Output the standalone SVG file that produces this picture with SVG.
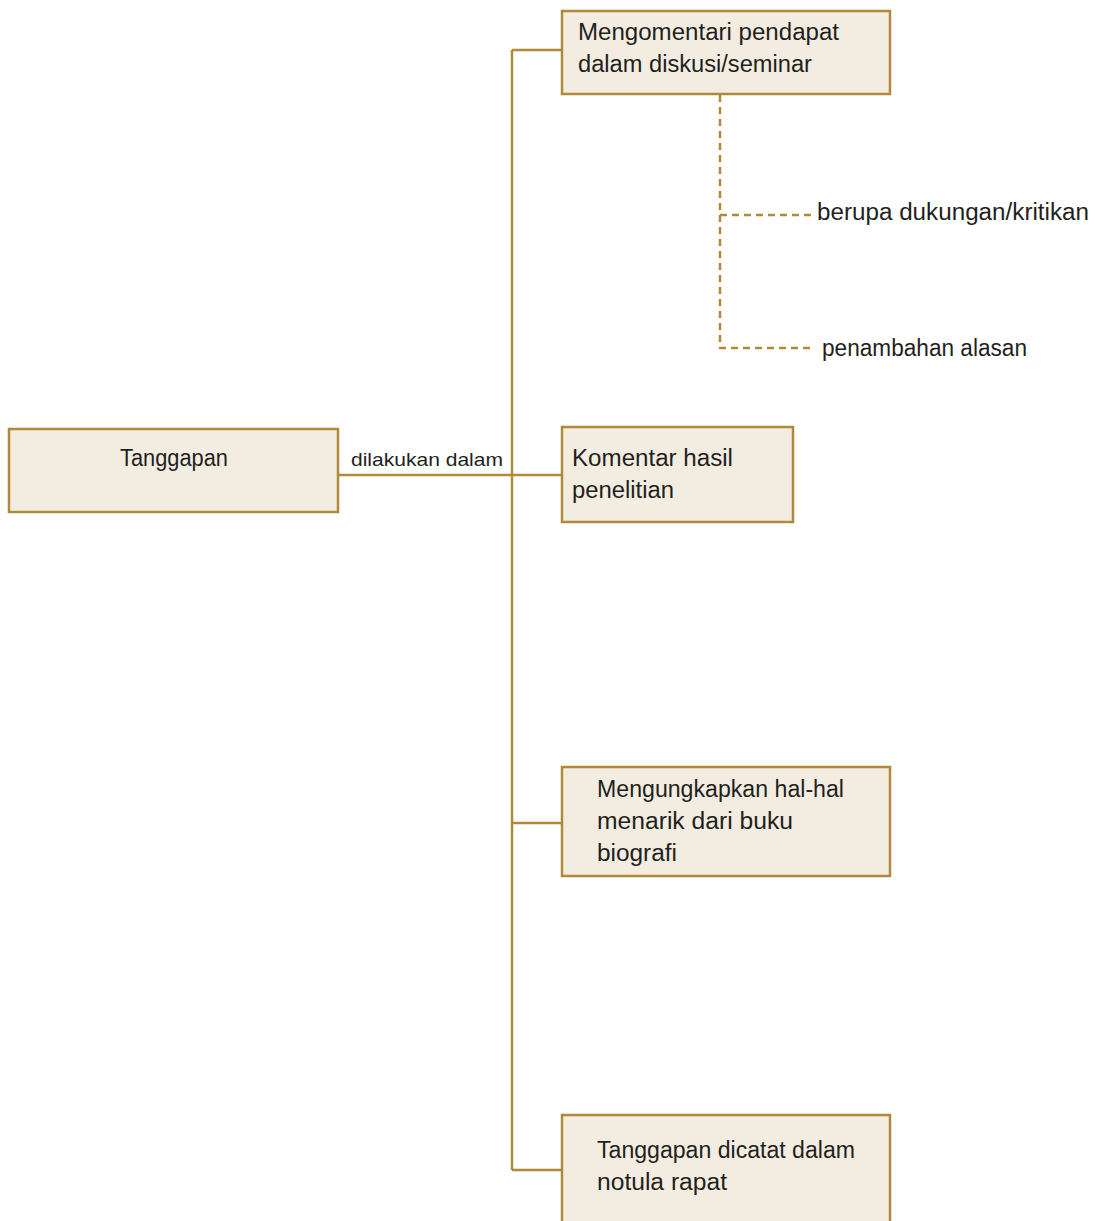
<svg xmlns="http://www.w3.org/2000/svg" width="1095" height="1221" viewBox="0 0 1095 1221">
<style>
.box{fill:#f3ede1;stroke:#b08a3a;stroke-width:2.5}
.ln{fill:none;stroke:#b08a3a;stroke-width:2.5}
.dash{fill:none;stroke:#b08a3a;stroke-width:2.5;stroke-dasharray:7,5}
text{font-family:"Liberation Sans",Arial,sans-serif;font-size:23px;fill:#231f20}
.sm{font-size:19px}
</style>
<rect width="1095" height="1221" fill="#ffffff"/>
<g id="connectors">
<path class="ln" d="M338,475 H562 M512,50 V1170 M512,50 H562 M512,823 H562 M512,1170 H562"/>
<path class="dash" d="M720,95 V348 H812 M720,215 H812"/>
</g>
<g id="n-tanggapan">
<rect class="box" x="9" y="429" width="329" height="83"/>
<text x="120" y="466" textLength="108" lengthAdjust="spacingAndGlyphs">Tanggapan</text>
</g>
<g id="l-dilakukan"><text class="sm" x="351" y="466" textLength="152" lengthAdjust="spacingAndGlyphs">dilakukan dalam</text></g>
<g id="n1">
<rect class="box" x="562" y="11" width="328" height="83"/>
<text x="578" y="40" textLength="261" lengthAdjust="spacingAndGlyphs">Mengomentari pendapat</text>
<text x="578" y="72" textLength="234" lengthAdjust="spacingAndGlyphs">dalam diskusi/seminar</text>
</g>
<g id="n1a"><text x="817" y="220" textLength="272" lengthAdjust="spacingAndGlyphs">berupa dukungan/kritikan</text></g>
<g id="n1b"><text x="822" y="356" textLength="205" lengthAdjust="spacingAndGlyphs">penambahan alasan</text></g>
<g id="n2">
<rect class="box" x="562" y="427" width="231" height="95"/>
<text x="572" y="466" textLength="161" lengthAdjust="spacingAndGlyphs">Komentar hasil</text>
<text x="572" y="498" textLength="102" lengthAdjust="spacingAndGlyphs">penelitian</text>
</g>
<g id="n3">
<rect class="box" x="562" y="767" width="328" height="109"/>
<text x="597" y="797" textLength="247" lengthAdjust="spacingAndGlyphs">Mengungkapkan hal-hal</text>
<text x="597" y="829" textLength="196" lengthAdjust="spacingAndGlyphs">menarik dari buku</text>
<text x="597" y="861" textLength="80" lengthAdjust="spacingAndGlyphs">biografi</text>
</g>
<g id="n4">
<path class="box" d="M562,1230 V1115 H890 V1230"/>
<text x="597" y="1158" textLength="258" lengthAdjust="spacingAndGlyphs">Tanggapan dicatat dalam</text>
<text x="597" y="1190" textLength="130" lengthAdjust="spacingAndGlyphs">notula rapat</text>
</g>
</svg>
